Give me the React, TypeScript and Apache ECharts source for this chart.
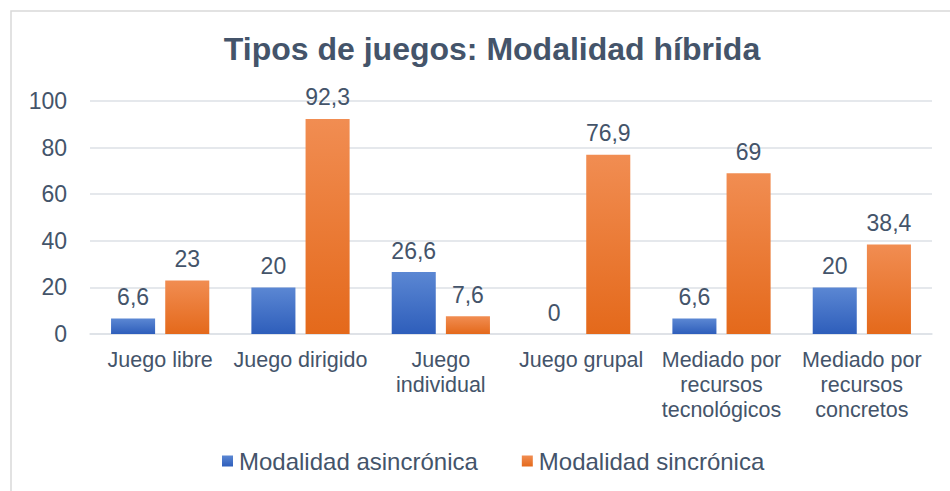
import React, { useEffect, useRef } from "react";
import * as echarts from "echarts";

const categories = [
  "Juego libre",
  "Juego dirigido",
  "Juego\nindividual",
  "Juego grupal",
  "Mediado por\nrecursos\ntecnológicos",
  "Mediado por\nrecursos\nconcretos",
];
const asincronica = [6.6, 20, 26.6, 0, 6.6, 20];
const sincronica = [23, 92.3, 7.6, 76.9, 69, 38.4];
const seriesNames = ["Modalidad asincrónica", "Modalidad sincrónica"];
const yTicks = { min: 0, max: 100, interval: 20 };

const TXT = "#44546A";
const FONT = "'Liberation Sans', Arial, sans-serif";

export default function App() {
  const ref = useRef<HTMLDivElement>(null);
  useEffect(() => {
    if (!ref.current) return;
    const chart = echarts.init(ref.current, undefined, { renderer: "svg" });
    const blue = new echarts.graphic.LinearGradient(0, 0, 0, 1, [
      { offset: 0, color: "#5B87D3" },
      { offset: 1, color: "#2E5EBB" },
    ]);
    const orange = new echarts.graphic.LinearGradient(0, 0, 0, 1, [
      { offset: 0, color: "#F18D52" },
      { offset: 1, color: "#E4691B" },
    ]);
    const fmt = (p: any) => String(p.value).replace(".", ",");
    chart.setOption({
      animation: false,
      textStyle: { fontFamily: FONT },
      title: {
        text: "Tipos de juegos: Modalidad híbrida",
        left: 487,
        textAlign: "center",
        top: 28,
        textStyle: { color: TXT, fontSize: 32, fontWeight: "bold", fontFamily: FONT },
      },
      graphic: [
        {
          type: "rect",
          shape: { x: 11, y: 11, width: 970, height: 520 },
          style: { fill: "none", stroke: "#D9D9D9", lineWidth: 1.5 },
          silent: true,
        },
      ],
      legend: {
        data: seriesNames,
        left: 222,
        top: 449,
        padding: 0,
        icon: "rect",
        itemWidth: 11,
        itemHeight: 11,
        itemGap: 44,
        textStyle: { color: TXT, fontSize: 24, fontFamily: FONT, padding: [0, 0, 0, 1] },
      },
      grid: { left: 90, right: 18, top: 101, bottom: 157, containLabel: false },
      xAxis: {
        type: "category",
        data: categories,
        axisLine: { show: true, lineStyle: { color: "#DDE1E6", width: 1.5 } },
        axisTick: { show: false },
        axisLabel: {
          color: TXT,
          fontSize: 21.5,
          fontFamily: FONT,
          interval: 0,
          lineHeight: 25,
          margin: 13,
        },
      },
      yAxis: {
        type: "value",
        min: yTicks.min,
        max: yTicks.max,
        interval: yTicks.interval,
        axisLine: { show: false },
        axisTick: { show: false },
        splitLine: { lineStyle: { color: "#DDE1E6", width: 1.5 } },
        axisLabel: { color: TXT, fontSize: 23, fontFamily: FONT, margin: 23 },
      },
      series: [
        {
          name: seriesNames[0],
          type: "bar",
          data: asincronica,
          itemStyle: { color: blue },
          barGap: "23%",
          barCategoryGap: "30%",
          label: {
            show: true,
            position: "top",
            distance: 10,
            formatter: fmt,
            color: TXT,
            fontSize: 23,
            fontFamily: FONT,
          },
        },
        {
          name: seriesNames[1],
          type: "bar",
          data: sincronica,
          itemStyle: { color: orange },
          barGap: "23%",
          barCategoryGap: "30%",
          label: {
            show: true,
            position: "top",
            distance: 10,
            formatter: fmt,
            color: TXT,
            fontSize: 23,
            fontFamily: FONT,
          },
        },
      ],
    });
    return () => chart.dispose();
  }, []);
  return (
    <div
      ref={ref}
      style={{ position: "absolute", left: 0, top: 0, width: 950, height: 491, background: "#fff" }}
    />
  );
}
